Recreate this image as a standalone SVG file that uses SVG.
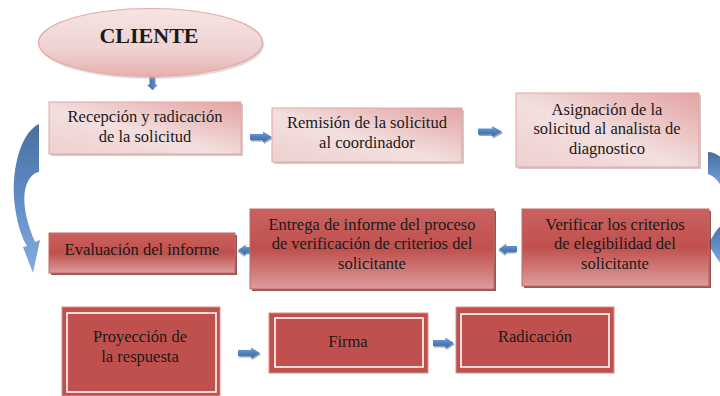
<svg xmlns="http://www.w3.org/2000/svg" xmlns:xlink="http://www.w3.org/1999/xlink" width="720" height="396" viewBox="0 0 720 396">
<style>
.t{font-family:"Liberation Serif","Times New Roman",serif;font-size:16.5px;fill:#1a1a1a;text-anchor:middle}
.light{fill:url(#gLight);stroke:#e3a6a5;stroke-width:1}
.dark{fill:url(#gDark);stroke:#c46966;stroke-width:1}
.sh1{fill:#b9a3a3;opacity:0.6}
.sh2{fill:#7b2e2c;opacity:0.8}
.solid{fill:#c0504d;stroke:#d7908e;stroke-width:1}
.inner{fill:none;stroke:#ffffff;stroke-width:1.6}
.arr{fill:url(#gBlue)}
.arrsh{fill:#2f4f7a;opacity:0.5}
.curve{fill:url(#gCurve)}
</style>
<defs>
<linearGradient id="gLight" x1="0" y1="1" x2="1" y2="0">
<stop offset="0" stop-color="#efcfcf"/>
<stop offset="0.45" stop-color="#f3dfdf"/>
<stop offset="1" stop-color="#e2a3a2"/>
</linearGradient>
<linearGradient id="gEll" x1="0" y1="0" x2="0" y2="1">
<stop offset="0" stop-color="#f6e4e4"/>
<stop offset="0.6" stop-color="#f0d2d2"/>
<stop offset="1" stop-color="#e6b0af"/>
</linearGradient>
<linearGradient id="gDark" x1="0" y1="0" x2="0" y2="1">
<stop offset="0" stop-color="#c9625f"/>
<stop offset="0.5" stop-color="#c0504d"/>
<stop offset="1" stop-color="#dc9d9b"/>
</linearGradient>
<linearGradient id="gBlue" x1="0" y1="0" x2="0" y2="1">
<stop offset="0" stop-color="#7aa2d6"/>
<stop offset="0.5" stop-color="#4f81bd"/>
<stop offset="1" stop-color="#3d6aa3"/>
</linearGradient>
<linearGradient id="gCurve" x1="0" y1="0" x2="0" y2="1">
<stop offset="0" stop-color="#4a6f9f"/>
<stop offset="0.5" stop-color="#5f8cc6"/>
<stop offset="1" stop-color="#86acdf"/>
</linearGradient>
<path id="ar" d="M0,-3 L13,-3 L13,-5.5 L22,0 L13,5.5 L13,3 L0,3 Z"/>
</defs>

<g id="connectors">
<g transform="translate(152.5,77) rotate(90) scale(0.6,1)"><use href="#ar" class="arr"/></g>
<g transform="translate(250,137)"><use href="#ar" class="arrsh" x="1" y="1.5"/><use href="#ar" class="arr"/></g>
<g transform="translate(478,131.5) scale(1.09,1)"><use href="#ar" class="arrsh" x="1" y="1.5"/><use href="#ar" class="arr"/></g>
<g transform="translate(257,250) scale(-0.86,1)"><use href="#ar" class="arrsh" x="1" y="1.5"/><use href="#ar" class="arr"/></g>
<g transform="translate(517,249) scale(-0.82,1)"><use href="#ar" class="arrsh" x="1" y="1.5"/><use href="#ar" class="arr"/></g>
<g transform="translate(238,353)"><use href="#ar" class="arrsh" x="1" y="1.5"/><use href="#ar" class="arr"/></g>
<g transform="translate(433,343) scale(0.95,1)"><use href="#ar" class="arrsh" x="1" y="1.5"/><use href="#ar" class="arr"/></g>
<path class="curve" d="M39,124 C22,132 12,165 14,198 C16,222 22,238 27,246 L23,247 L33,273 L40,240 L35,242 C29,228 22,208 25,190 C28,178 33,173 39,172 Z"/>
<path class="curve" d="M708,152 C714,152 720,156 724,160 L724,192 C720,182 714,176 708,174 Z"/>
<path class="curve" d="M724,222 L716,231 L708,244 L716,257 L724,268 Z"/>
</g>

<g id="n-cliente">
<ellipse cx="152" cy="45" rx="112" ry="34" fill="#c9b3b3" opacity="0.5"/>
<ellipse cx="150.5" cy="42.5" rx="112" ry="34" fill="url(#gEll)" stroke="#e2a9a8" stroke-width="1.2"/>
<text x="149" y="43" class="t" style="font-size:22px;font-weight:bold">CLIENTE</text>
</g>

<g id="n-recepcion">
<rect x="51" y="104" width="192" height="52" class="sh1"/>
<rect x="49" y="102" width="192" height="52" class="light"/>
<text x="145" y="122" class="t">Recepción y radicación</text>
<text x="145" y="142" class="t">de la solicitud</text>
</g>

<g id="n-remision">
<rect x="274" y="110" width="190" height="54" class="sh1"/>
<rect x="272" y="108" width="190" height="54" class="light"/>
<text x="367" y="128" class="t">Remisión de la solicitud</text>
<text x="367" y="148" class="t">al coordinador</text>
</g>

<g id="n-asignacion">
<rect x="518" y="95" width="183" height="74" class="sh1"/>
<rect x="516" y="93" width="183" height="74" class="light"/>
<text x="607" y="115" class="t">Asignación de la</text>
<text x="607" y="134" class="t">solicitud al analista de</text>
<text x="607" y="154" class="t">diagnostico</text>
</g>

<g id="n-verificar">
<rect x="524" y="211" width="187" height="77" class="sh2"/>
<rect x="522" y="209" width="187" height="77" class="dark"/>
<text x="615" y="230" class="t">Verificar los criterios</text>
<text x="615" y="249" class="t">de elegibilidad del</text>
<text x="615" y="269" class="t">solicitante</text>
</g>

<g id="n-entrega">
<rect x="252" y="211" width="244" height="80" class="sh2"/>
<rect x="250" y="209" width="244" height="80" class="dark"/>
<text x="372" y="230" class="t">Entrega de informe del proceso</text>
<text x="372" y="249" class="t">de verificación de criterios del</text>
<text x="372" y="269" class="t">solicitante</text>
</g>

<g id="n-evaluacion">
<rect x="51" y="235" width="186" height="40" class="sh2"/>
<rect x="49" y="233" width="186" height="40" class="dark"/>
<text x="142" y="255" class="t">Evaluación del informe</text>
</g>

<g id="n-proyeccion">
<rect x="62" y="307" width="158" height="89" class="solid"/>
<rect x="67" y="313" width="149" height="79" class="inner"/>
<text x="140" y="342" class="t">Proyección de</text>
<text x="140" y="362" class="t">la respuesta</text>
</g>

<g id="n-firma">
<rect x="269" y="313" width="159" height="60" class="solid"/>
<rect x="275" y="318" width="148" height="49" class="inner"/>
<text x="348" y="347" class="t">Firma</text>
</g>

<g id="n-radicacion">
<rect x="456" y="307" width="158" height="66" class="solid"/>
<rect x="461" y="314" width="148" height="53" class="inner"/>
<text x="535" y="342" class="t">Radicación</text>
</g>
</svg>
